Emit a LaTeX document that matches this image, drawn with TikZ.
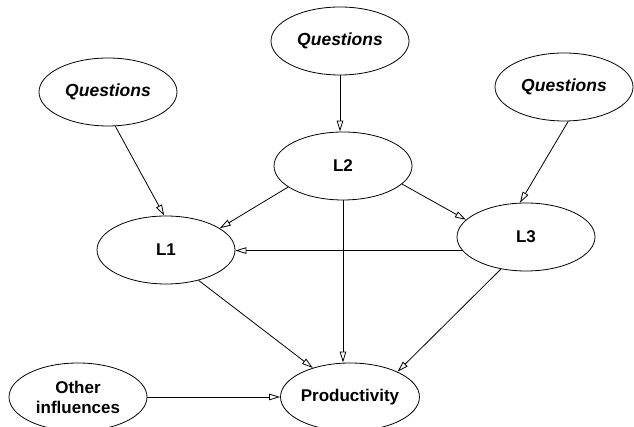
\documentclass[tikz,border=0pt]{standalone}
\usepackage{fontspec}
\setmainfont{Liberation Sans}
\usetikzlibrary{shapes.geometric,arrows.meta}
\begin{document}
\begin{tikzpicture}[x=1pt,y=1pt,
  ell/.style={draw=black,line width=0.8pt,ellipse,minimum width=138pt,minimum height=68pt,inner sep=0pt,
    font=\fontsize{17}{20}\selectfont\bfseries,align=center},
  qell/.style={ell,font=\fontsize{17.5}{20}\selectfont\bfseries\itshape},
  conn/.style={draw=black,line width=0.8pt,-{Triangle[open,length=11pt,width=6.5pt]}}]
\useasboundingbox (0,0) rectangle (634,427);
\node[qell] (Qt) at (340,386) {Questions};
\node[qell] (Ql) at (108,335) {Questions};
\node[qell] (Qr) at (564,340) {Questions};
\node[ell] (L2) at (343,261) {L2};
\node[ell] (L1) at (166,177) {L1};
\node[ell] (L3) at (526,190) {L3};
\node[ell] (Oi) at (78,30) {Other\\influences};
\node[ell] (Pr) at (350,30) {Productivity};
\draw[conn] (Qt.south) -- (Qt.south |- L2.north);
\draw[conn] (Ql.282) -- (L1.93);
\draw[conn] (Qr.277) -- (L3.100);
\draw[conn] (L2.201) -- (L1.22);
\draw[conn] (L2.343) -- (L3.164);
\draw[conn] (L3.192) -- (L3.192 -| L1.east);
\draw[conn] (L2.south) -- (L2.south |- Pr.north);
\draw[conn] (L1.317) -- (Pr.142);
\draw[conn] (L3.232) -- (Pr.28);
\draw[conn] (Oi.east) -- (Pr.west);
\end{tikzpicture}
\end{document}
